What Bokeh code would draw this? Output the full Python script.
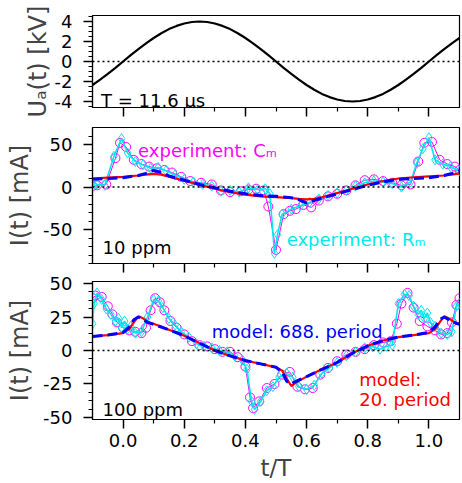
from bokeh.plotting import figure
from bokeh.layouts import column
from bokeh.models import (Range1d, FixedTicker, Span, Label, PrintfTickFormatter,
                          CustomJSTickFormatter)
from bokeh.embed import file_html
from bokeh.resources import INLINE

FONT = "DejaVu Sans"

# ---------------- data ----------------
t_u = [-0.1, -0.075, -0.05, -0.025, 0.0, 0.025, 0.05, 0.075, 0.1, 0.125, 0.15, 0.175,
       0.2, 0.225, 0.25, 0.275, 0.3, 0.325, 0.35, 0.375, 0.4, 0.425, 0.45, 0.475,
       0.5, 0.525, 0.55, 0.575, 0.6, 0.625, 0.65, 0.675, 0.7, 0.725, 0.75, 0.775,
       0.8, 0.825, 0.85, 0.875, 0.9, 0.925, 0.95, 0.975, 1.0, 1.025, 1.05, 1.075, 1.1]
u_a = [-2.35, -1.82, -1.24, -0.63, 0.0, 0.63, 1.24, 1.82, 2.35, 2.83, 3.24, 3.56,
       3.80, 3.95, 4.00, 3.95, 3.80, 3.56, 3.24, 2.83, 2.35, 1.82, 1.24, 0.63,
       0.0, -0.63, -1.24, -1.82, -2.35, -2.83, -3.24, -3.56, -3.80, -3.95, -4.00, -3.95,
       -3.80, -3.56, -3.24, -2.83, -2.35, -1.82, -1.24, -0.63, 0.0, 0.63, 1.24, 1.82, 2.35]

# 10 ppm experiment
t_c10 = [-0.1, -0.085, -0.055, -0.025, -0.01, 0.01, 0.035, 0.06, 0.085, 0.11, 0.135, 0.16,
         0.19, 0.22, 0.255, 0.29, 0.32, 0.35, 0.385, 0.41, 0.435, 0.46, 0.475, 0.5, 0.525,
         0.545, 0.565, 0.59, 0.615, 0.64, 0.67, 0.7, 0.73, 0.76, 0.79, 0.82, 0.85, 0.88,
         0.91, 0.94, 0.965, 0.985, 1.01, 1.035, 1.06, 1.085, 1.1]
i_c10 = [1, 2, 3, 34, 52, 47, 32, 27, 24, 22, 20, 17,
         12, 7, 5, 3, -4, -6, -5, -3, -2, -4, -23, -74, -32,
         -28, -26, -21, -24, -16, -11, -8, -4, 2, 8, 9, 7, 5,
         2, 3, 30, 52, 53, 32, 27, 24, 20]
t_r10 = [-0.1, -0.085, -0.06, -0.03, -0.005, 0.015, 0.04, 0.065, 0.09, 0.115, 0.14, 0.17,
         0.2, 0.23, 0.26, 0.29, 0.32, 0.35, 0.38, 0.41, 0.44, 0.465, 0.48, 0.495, 0.505,
         0.52, 0.55, 0.58, 0.61, 0.64, 0.67, 0.7, 0.73, 0.76, 0.79, 0.82, 0.85, 0.88,
         0.91, 0.94, 0.96, 0.98, 1.0, 1.02, 1.045, 1.07, 1.1]
i_r10 = [0, 3, 2, 36, 57, 40, 30, 26, 22, 23, 19, 14,
         9, 6, 3, 1, -5, -4, -6, -1, -3, -2, -8, -78, -56,
         -32, -26, -22, -18, -14, -10, -7, -4, 1, 5, 7, 6, 4,
         0, 6, 28, 45, 58, 32, 27, 24, 19]

# 10 ppm models
t_m10 = [-0.1, -0.05, 0.0, 0.05, 0.075, 0.1, 0.125, 0.15, 0.2, 0.25, 0.3, 0.35, 0.4, 0.45,
         0.5, 0.55, 0.575, 0.6, 0.625, 0.65, 0.7, 0.75, 0.8, 0.85, 0.9, 0.95, 1.0, 1.05,
         1.075, 1.1]
red10 = [10, 11, 12, 13.5, 14.5, 15.5, 14.5, 12, 7.5, 2.5, -2, -6, -9, -11,
         -12, -13, -14, -14.5, -14, -12, -7, -2, 3, 7, 10, 11.5, 12.5, 13.5,
         14.5, 16]
blue10 = [9, 10, 11, 13.5, 16, 19.5, 17, 13, 8, 3, -1, -5, -8, -10,
          -11, -12.5, -15, -19, -16, -13, -8, -3, 2, 6, 9, 10, 11, 13.5,
          16, 19]

# 100 ppm experiment
t_c100 = [-0.1, -0.09, -0.07, -0.05, -0.035, -0.02, 0.0, 0.02, 0.04, 0.06, 0.075, 0.09,
          0.105, 0.12, 0.135, 0.155, 0.175, 0.2, 0.225, 0.25, 0.275, 0.3, 0.325, 0.35,
          0.375, 0.4, 0.415, 0.425, 0.445, 0.47, 0.495, 0.52, 0.545, 0.57, 0.595, 0.62,
          0.645, 0.67, 0.7, 0.73, 0.76, 0.79, 0.82, 0.85, 0.875, 0.895, 0.91, 0.93, 0.95,
          0.97, 0.995, 1.02, 1.04, 1.06, 1.075, 1.09, 1.1]
i_c100 = [39, 41, 40, 33, 27, 21, 17, 15, 14, 13, 17, 30,
          39, 36, 30, 22, 17, 12, 7, 4, 3, 1, -1, -1,
          -5, -12, -35, -43, -38, -28, -25, -18, -16, -27, -29, -28,
          -18, -13, -8, -3, -1, 1, 4, 6, 7, 20, 35, 43, 32,
          22, 18, 15, 12, 13, 21, 34, 39]
t_r100 = [-0.1, -0.095, -0.085, -0.07, -0.055, -0.04, -0.025, -0.015, -0.005, 0.005, 0.015,
          0.025, 0.04, 0.06, 0.08, 0.1, 0.115, 0.13, 0.15, 0.17, 0.19, 0.215, 0.24, 0.265,
          0.29, 0.315, 0.34, 0.365, 0.39, 0.405, 0.42, 0.43, 0.45, 0.47, 0.49, 0.51, 0.535,
          0.555, 0.575, 0.6, 0.625, 0.65, 0.675, 0.7, 0.73, 0.76, 0.79, 0.815, 0.84, 0.86,
          0.88, 0.9, 0.92, 0.935, 0.95, 0.965, 0.975, 0.985, 0.995, 1.005, 1.02, 1.04, 1.06,
          1.075, 1.09, 1.1]
i_r100 = [20, 35, 43, 38, 31, 27, 22, 24, 17, 22, 16,
          18, 13, 14, 25, 38, 37, 32, 24, 19, 14, 10, 5, 3,
          2, 0, -1, -4, -7, -14, -38, -44, -38, -30, -27, -20, -17,
          -20, -27, -29, -26, -17, -13, -9, -4, -1, 2, 3, 1, 3,
          4, 35, 42, 41, 33, 27, 30, 24, 28, 21, 18, 13, 12,
          14, 33, 35]

# 100 ppm models
t_m100 = [-0.1, -0.05, 0.0, 0.02, 0.035, 0.05, 0.065, 0.08, 0.1, 0.15, 0.2, 0.25, 0.3,
          0.35, 0.4, 0.45, 0.5, 0.52, 0.535, 0.55, 0.565, 0.6, 0.65, 0.7, 0.75, 0.8, 0.85,
          0.9, 0.95, 1.0, 1.02, 1.035, 1.05, 1.065, 1.08, 1.1]
red100 = [10.5, 11.5, 13, 16, 21, 25.5, 24, 21.5, 20, 15.5, 11, 5.5, 0,
          -4, -7.5, -10, -12.5, -15, -21, -26.5, -24, -19.5, -14, -9, -2, 3.5, 7.5,
          10, 11.5, 13, 16, 21, 25.5, 24, 21.5, 20]
blue100 = [10.5, 11.5, 13.5, 17.5, 23, 25, 23, 21, 19.5, 15.5, 11, 5.5, 0,
           -4, -7.5, -10, -12.5, -16, -23, -25, -23, -19.5, -14, -9, -2, 3.5, 7.5,
           10, 11.5, 13.5, 17.5, 23, 25, 23, 21, 19.5]

x_major = [0.0, 0.2, 0.4, 0.6, 0.8, 1.0]
x_minor = [0.1, 0.3, 0.5, 0.7, 0.9]

MAG = "#ff00ff"
CYA = "#00e8ee"

xr = Range1d(-0.1, 1.1)


def make_fig(h, top, bottom, yr, yticks, yminor, ylabel, label_standoff, show_x):
    p = figure(width=462, height=h, x_range=xr, y_range=Range1d(*yr),
               output_backend="svg", toolbar_location=None,
               min_border_left=92, min_border_right=3,
               min_border_top=top, min_border_bottom=bottom)
    p.grid.visible = False
    p.outline_line_color = "black"
    p.outline_line_width = 1.2
    p.outline_line_alpha = 1.0
    for ax in (p.xaxis, p.yaxis):
        ax.axis_line_width = 1.2
        ax.major_tick_line_width = 1.5
        ax.minor_tick_line_width = 1.2
        ax.major_tick_in = 0
        ax.major_tick_out = 9
        ax.minor_tick_in = 0
        ax.minor_tick_out = 4
        ax.major_label_text_font = FONT
        ax.major_label_text_font_size = "18px"
        ax.major_label_text_color = "black"
        ax.axis_label_text_font = FONT
        ax.axis_label_text_font_style = "normal"
    p.xaxis.ticker = FixedTicker(ticks=x_major, minor_ticks=x_minor)
    p.yaxis.ticker = FixedTicker(ticks=yticks, minor_ticks=yminor)
    p.yaxis.formatter = PrintfTickFormatter(format="%d")
    p.yaxis.major_label_standoff = 11
    p.yaxis.axis_label = ylabel
    p.yaxis.axis_label_text_font_size = "24px"
    p.yaxis.axis_label_standoff = label_standoff
    if show_x:
        p.xaxis.formatter = PrintfTickFormatter(format="%.1f")
        p.xaxis.major_label_standoff = 5
        p.xaxis.axis_label = "t/T"
        p.xaxis.axis_label_text_font_size = "23px"
        p.xaxis.axis_label_standoff = 5
    else:
        p.xaxis.formatter = CustomJSTickFormatter(code="return ''")
        p.xaxis.major_label_text_font_size = "0px"
        p.xaxis.major_label_standoff = 0
    p.add_layout(Span(location=0, dimension="width", line_color="black",
                      line_dash="2 3", line_width=1.3))
    return p


def note(p, x, y, text, color, size="18px"):
    p.add_layout(Label(x=x, y=y, text=text, text_color=color, text_font=FONT,
                       text_font_size=size, text_align="left",
                       text_baseline="alphabetic"))


# ---------- panel 1 ----------
p1 = make_fig(117, 15, 10, (-4.6, 4.6), [-4, -2, 0, 2, 4],
              [-4.5, -3.5, -3, -2.5, -1.5, -1, -0.5, 0.5, 1, 1.5, 2.5, 3, 3.5, 4.5],
              "U\u2090(t) [kV]", 0, False)
p1.line(t_u, u_a, line_color="black", line_width=2.2)
note(p1, -0.072, -3.9, "T = 11.6 \u00b5s", "black")

# ---------- panel 2 ----------
p2 = make_fig(156, 10, 10, (-90, 70), [-50, 0, 50],
              [-90, -80, -70, -60, -40, -30, -20, -10, 10, 20, 30, 40, 60],
              "I(t) [mA]", 6, False)
p2.line(t_c10, i_c10, line_color=MAG, line_width=1)
p2.scatter(t_c10, i_c10, marker="circle", size=9, fill_color=None,
           line_color=MAG, line_width=1)
p2.line(t_r10, i_r10, line_color=CYA, line_width=1.6)
p2.scatter(t_r10, i_r10, marker="diamond", size=10, fill_color=None,
           line_color=CYA, line_width=1)
p2.line(t_m10, red10, line_color="#ff0000", line_width=2.2)
p2.line(t_m10, blue10, line_color="#0000ff", line_width=3, line_dash="10 5")
note(p2, 0.049, 43, "experiment: C\u2098", MAG)
note(p2, 0.535, -61.6, "experiment: R\u2098", CYA)
note(p2, -0.067, -71.7, "10 ppm", "black")

# ---------- panel 3 ----------
p3 = make_fig(210, 8, 62, (-51.5, 51.5), [-50, -25, 0, 25, 50],
              [-43.75, -37.5, -31.25, -18.75, -12.5, -6.25,
               6.25, 12.5, 18.75, 31.25, 37.5, 43.75],
              "I(t) [mA]", 6, True)
p3.line(t_c100, i_c100, line_color=MAG, line_width=1)
p3.scatter(t_c100, i_c100, marker="circle", size=9, fill_color=None,
           line_color=MAG, line_width=1)
p3.line(t_r100, i_r100, line_color=CYA, line_width=1.6)
p3.scatter(t_r100, i_r100, marker="diamond", size=10, fill_color=None,
           line_color=CYA, line_width=1)
p3.line(t_m100, red100, line_color="#ff0000", line_width=2.2)
p3.line(t_m100, blue100, line_color="#0000ff", line_width=3, line_dash="10 5")
note(p3, 0.29, 13.9, "model: 688. period", "#0000ff")
note(p3, 0.772, -21.7, "model:", "#ff0000")
note(p3, 0.772, -36.9, "20. period", "#ff0000")
note(p3, -0.067, -44.2, "100 ppm", "black")

layout = column(p1, p2, p3, spacing=0)
open("out.html", "w").write(file_html(layout, INLINE))
